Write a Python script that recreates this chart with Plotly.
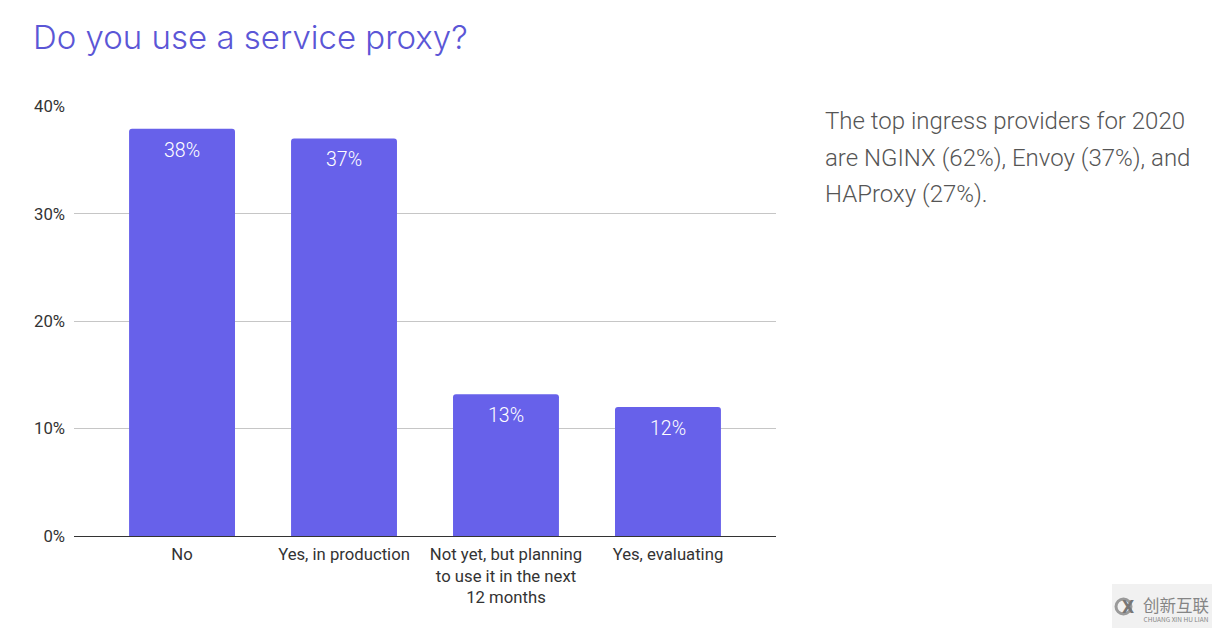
import plotly.graph_objects as go

categories = ['No', 'Yes, in production', 'Not yet, but planning<br>to use it in the next<br>12 months', 'Yes, evaluating']
values = [37.9, 37, 13.2, 12]
labels = ['38%', '37%', '13%', '12%']
tick_values = [0, 10, 20, 30, 40]
tick_labels = ['0%', '10%', '20%', '30%', '40%']
side_note = ['The top ingress providers for 2020', 'are NGINX (62%), Envoy (37%), and', 'HAProxy (27%).']
side_note_y = [121, 158, 194]

W = 1212
H = 628

def px(x):
    return x / W

def py(y):
    return 1 - y / H

fig = go.Figure()

fig.add_trace(go.Bar(
    x = list(range(len(categories))),
    y = values,
    marker = dict(color = '#6761EA', cornerradius = 3, line = dict(width = 0)),
    width = 0.654
))

fig.update_layout(
    width = W,
    height = H,
    margin = dict(l = 0, r = 0, t = 0, b = 0),
    paper_bgcolor = 'white',
    plot_bgcolor = 'white',
    showlegend = False,
    font = dict(family = 'Roboto', color = '#333333'),
    title = dict(text = 'Do you use a service proxy?', x = px(33), xanchor = 'left', y = py(37.5), yanchor = 'middle',
                 font = dict(size = 33, color = '#5B56D6', family = 'Inter', weight = 300)),
    xaxis = dict(domain = [px(74), px(776)], range = [-0.667, 3.667], automargin = False,
                 tickvals = list(range(len(categories))), ticktext = categories,
                 showline = True, linecolor = '#333333', linewidth = 1, showgrid = False, zeroline = False,
                 tickfont = dict(size = 16.7, color = '#333333'), ticks = '', ticklabelstandoff = 3),
    # a hair over 40 so the top gridline is still drawn
    yaxis = dict(domain = [py(536), py(106)], range = [0, 40.02], automargin = False,
                 tickvals = tick_values, ticktext = tick_labels, gridcolor = '#C6C6C6', gridwidth = 1,
                 tickfont = dict(size = 16.7, color = '#333333'), ticks = '', zeroline = False, ticklabelstandoff = 8)
)

# value labels sit a fixed distance under the top of each bar
for i in range(len(values)):
    fig.add_annotation(x = i, y = values[i], text = labels[i], yshift = -21.5, showarrow = False,
                       font = dict(size = 19.5, color = 'white', family = 'Roboto', weight = 300))

for i in range(len(side_note)):
    fig.add_annotation(text = side_note[i], xref = 'paper', yref = 'paper', x = px(823), y = py(side_note_y[i]),
                       xanchor = 'left', yanchor = 'middle', align = 'left', showarrow = False,
                       font = dict(size = 24, color = '#555555', family = 'Roboto', weight = 300))

# watermark in the bottom right corner
fig.add_shape(type = 'rect', xref = 'paper', yref = 'paper', x0 = px(1112), x1 = px(1212), y0 = py(628), y1 = py(584),
              fillcolor = '#F1F1F1', line = dict(width = 0), layer = 'below')
fig.add_shape(type = 'circle', xref = 'paper', yref = 'paper', x0 = px(1116), x1 = px(1131), y0 = py(614), y1 = py(599),
              line = dict(color = '#9A9A9A', width = 3))
fig.add_annotation(text = '<b>X</b>', xref = 'paper', yref = 'paper', x = px(1128), y = py(606), showarrow = False,
                   xanchor = 'center', yanchor = 'middle', font = dict(size = 19, color = '#777777', family = 'Roboto'))
# one text with two sizes, the small base size keeps the lines close together
fig.add_annotation(text = '<span style="font-size:16.5px">创新互联</span><br><span style="font-size:6.5px">CHUANG XIN HU LIAN</span>',
                   xref = 'paper', yref = 'paper', x = px(1176), y = py(608), showarrow = False,
                   xanchor = 'center', yanchor = 'middle', font = dict(size = 8, color = '#858585', family = 'Noto Sans CJK SC'))

# the page margin would push the figure 8px off the reference
fig.write_html("out.html", config = dict(displayModeBar = False), post_script = "document.body.style.margin = '0';")
